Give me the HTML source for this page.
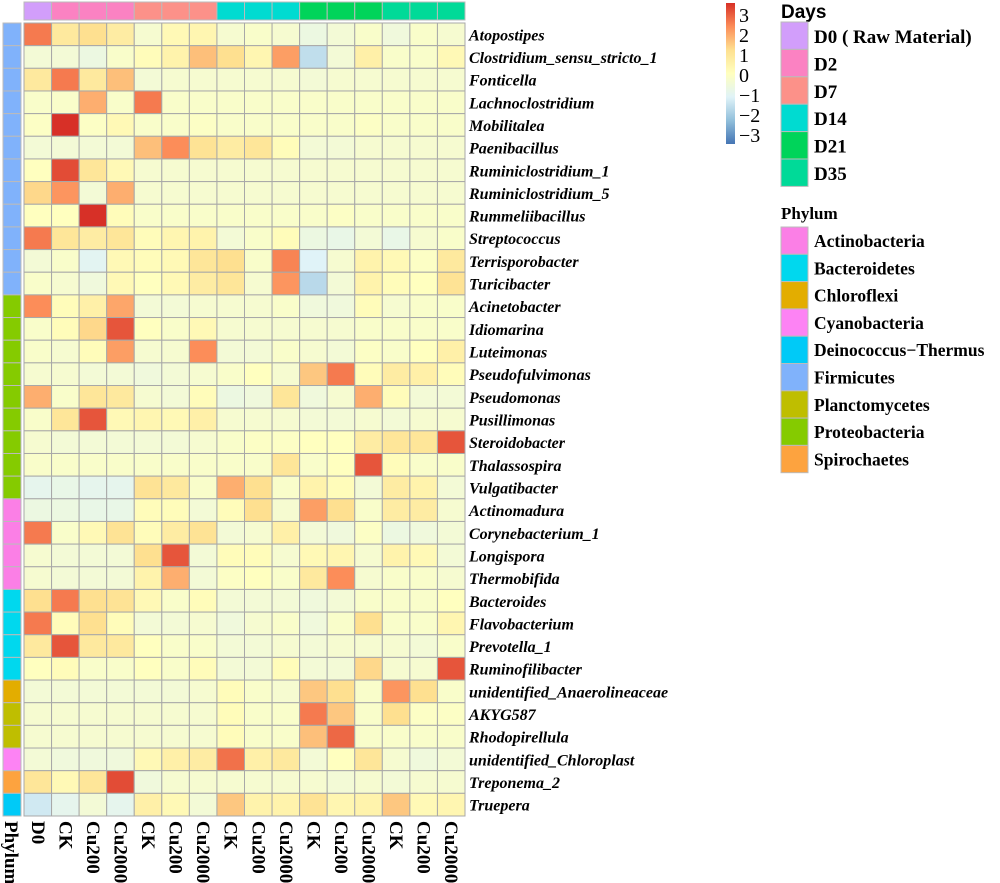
<!DOCTYPE html>
<html><head><meta charset="utf-8"><style>
html,body{margin:0;padding:0;background:#fff;width:1000px;height:883px;overflow:hidden}
</style></head><body>
<svg id="chart" width="1000" height="883" xmlns="http://www.w3.org/2000/svg"></svg>
<script>
const rows=["Atopostipes","Clostridium_sensu_stricto_1","Fonticella","Lachnoclostridium","Mobilitalea","Paenibacillus","Ruminiclostridium_1","Ruminiclostridium_5","Rummeliibacillus","Streptococcus","Terrisporobacter","Turicibacter","Acinetobacter","Idiomarina","Luteimonas","Pseudofulvimonas","Pseudomonas","Pusillimonas","Steroidobacter","Thalassospira","Vulgatibacter","Actinomadura","Corynebacterium_1","Longispora","Thermobifida","Bacteroides","Flavobacterium","Prevotella_1","Ruminofilibacter","unidentified_Anaerolineaceae","AKYG587","Rhodopirellula","unidentified_Chloroplast","Treponema_2","Truepera"];
const rowPhylum=["Firmicutes","Firmicutes","Firmicutes","Firmicutes","Firmicutes","Firmicutes","Firmicutes","Firmicutes","Firmicutes","Firmicutes","Firmicutes","Firmicutes","Proteobacteria","Proteobacteria","Proteobacteria","Proteobacteria","Proteobacteria","Proteobacteria","Proteobacteria","Proteobacteria","Proteobacteria","Actinobacteria","Actinobacteria","Actinobacteria","Actinobacteria","Bacteroidetes","Bacteroidetes","Bacteroidetes","Bacteroidetes","Chloroflexi","Planctomycetes","Planctomycetes","Cyanobacteria","Spirochaetes","Deinococcus\u2212Thermus"];
const columns=["D0","CK","Cu200","Cu2000","CK","Cu200","Cu2000","CK","Cu200","Cu2000","CK","Cu200","Cu2000","CK","Cu200","Cu2000"];
const colDays=["D0 ( Raw Material)","D2","D2","D2","D7","D7","D7","D14","D14","D14","D21","D21","D21","D35","D35","D35"];
const values=[
[2.2,0.7,1.0,0.6,-0.3,0.2,0.3,-0.3,-0.2,-0.3,-0.6,-0.4,-0.2,-0.5,-0.2,-0.3],
[-0.4,-0.4,-0.6,-0.2,0.1,0.4,1.4,1.0,0.3,1.8,-1.4,-0.4,0.5,-0.2,-0.2,0.2],
[0.7,2.2,0.7,1.4,-0.4,-0.3,-0.3,-0.3,-0.3,-0.3,-0.4,-0.3,-0.3,-0.3,-0.3,-0.3],
[-0.2,-0.2,1.6,-0.2,2.2,-0.2,-0.2,-0.2,-0.2,-0.2,-0.2,-0.2,-0.2,-0.2,-0.2,-0.2],
[-0.1,3.0,-0.1,0.2,-0.2,-0.2,-0.1,-0.2,-0.2,-0.2,-0.2,-0.2,-0.1,-0.2,-0.2,-0.2],
[-0.4,-0.4,-0.4,-0.4,1.4,2.0,0.9,0.6,0.8,0.1,-0.4,-0.4,-0.3,-0.3,-0.3,-0.3],
[0.0,2.7,0.8,0.2,-0.3,-0.3,-0.3,-0.3,-0.3,-0.3,-0.3,-0.3,-0.3,-0.3,-0.3,-0.3],
[1.1,1.9,-0.4,1.6,-0.3,-0.3,-0.3,-0.3,-0.3,-0.3,-0.3,-0.3,-0.3,-0.3,-0.3,-0.3],
[0.0,0.0,3.0,0.1,-0.2,-0.2,-0.2,-0.2,-0.2,-0.2,-0.2,-0.1,-0.2,-0.2,-0.2,-0.2],
[2.2,0.8,0.6,0.8,0.1,0.3,0.4,-0.4,-0.2,0.1,-0.6,-0.7,-0.4,-0.7,-0.3,-0.2],
[-0.4,-0.2,-0.9,0.2,0.1,0.2,0.8,1.0,-0.2,2.1,-1.0,-0.3,0.4,0.2,-0.1,0.7],
[-0.2,-0.3,-0.5,0.2,0.0,0.2,0.6,0.8,-0.3,1.9,-1.5,-0.4,0.4,0.1,0.0,0.9],
[2.0,0.1,0.5,1.7,-0.4,-0.4,-0.3,-0.3,-0.3,-0.2,-0.5,-0.5,0.1,-0.3,-0.2,-0.2],
[-0.2,0.1,1.1,2.6,0.0,-0.2,0.2,-0.3,-0.3,-0.3,-0.3,-0.3,-0.2,-0.2,-0.2,-0.2],
[-0.2,-0.3,0.1,1.8,-0.3,-0.3,2.0,-0.4,-0.4,-0.2,-0.3,-0.4,-0.1,-0.2,0.0,0.5],
[-0.3,-0.3,-0.4,-0.4,-0.5,-0.4,-0.3,-0.2,0.0,-0.3,1.3,2.2,0.1,0.6,0.5,0.1],
[1.6,-0.2,0.8,0.7,-0.3,-0.4,0.1,-0.6,-0.5,0.8,-0.5,-0.3,1.6,0.1,-0.4,-0.4],
[-0.2,0.8,2.6,0.2,0.3,0.2,0.5,-0.3,-0.3,-0.3,-0.4,-0.4,-0.3,-0.4,-0.3,-0.3],
[-0.3,-0.4,-0.4,-0.4,-0.4,-0.4,-0.3,-0.2,-0.1,-0.1,0.0,0.0,0.6,0.8,0.8,2.6],
[-0.2,-0.2,-0.2,-0.2,-0.2,-0.2,-0.2,-0.2,-0.2,0.8,-0.2,0.0,2.6,0.1,-0.2,-0.2],
[-0.8,-0.7,-0.8,-0.8,0.9,0.7,-0.2,1.6,1.0,-0.2,0.4,0.1,-0.4,0.6,0.4,-0.4],
[-0.6,-0.6,-0.7,-0.7,0.1,0.1,-0.4,0.1,1.0,-0.3,1.8,1.0,-0.2,0.6,0.6,-0.3],
[2.2,-0.2,0.2,0.9,0.1,0.6,0.9,-0.4,-0.3,0.5,-0.4,-0.5,-0.1,-0.6,-0.5,-0.4],
[-0.3,-0.4,-0.4,-0.4,1.0,2.6,-0.4,0.1,0.1,-0.3,0.2,0.3,-0.3,0.4,0.2,-0.4],
[-0.3,-0.4,-0.4,-0.4,0.4,1.6,-0.4,-0.1,0.0,-0.2,0.7,2.0,-0.3,-0.2,-0.2,-0.3],
[1.0,2.2,1.0,0.9,0.2,-0.2,0.1,-0.4,-0.4,-0.4,-0.5,-0.4,-0.2,-0.2,-0.2,0.0],
[2.2,0.1,1.0,0.1,-0.4,-0.4,-0.3,-0.5,-0.3,-0.2,-0.5,-0.2,1.0,-0.2,-0.2,0.3],
[0.7,2.6,0.7,0.7,0.0,-0.2,-0.2,-0.4,-0.4,-0.3,-0.4,-0.3,-0.3,-0.3,-0.4,-0.2],
[0.0,0.1,-0.2,-0.2,0.0,-0.2,0.1,-0.4,-0.4,0.1,-0.4,-0.4,1.1,-0.3,-0.3,2.6],
[-0.4,-0.4,-0.4,-0.4,-0.4,-0.4,-0.3,0.1,-0.2,-0.3,1.3,1.0,-0.2,1.9,1.0,-0.2],
[-0.3,-0.3,-0.3,-0.3,-0.3,-0.3,-0.3,0.1,-0.2,-0.2,2.2,1.3,-0.2,1.0,-0.1,-0.1],
[-0.3,-0.3,-0.3,-0.3,-0.3,-0.3,-0.3,0.1,-0.2,-0.2,1.4,2.4,-0.2,-0.2,-0.2,-0.2],
[-0.4,-0.5,-0.5,-0.5,0.2,0.5,0.6,2.3,0.5,0.7,-0.4,0.0,0.8,-0.3,-0.5,-0.4],
[0.8,0.2,0.8,2.7,-0.5,-0.3,-0.3,-0.3,-0.3,-0.3,-0.3,-0.4,-0.3,-0.4,-0.3,-0.3],
[-1.2,-0.8,-0.4,-0.8,0.5,0.2,-0.4,1.3,0.4,0.4,0.9,0.3,0.4,1.3,0.2,0.3]
];
const dayNames=["D0 ( Raw Material)","D2","D7","D14","D21","D35"];
const dayColors=["#D29EFB","#FB82C2","#FC9189","#00DBD1","#00D45A","#00DA98"];
const phylumNames=["Actinobacteria","Bacteroidetes","Chloroflexi","Cyanobacteria","Deinococcus\u2212Thermus","Firmicutes","Planctomycetes","Proteobacteria","Spirochaetes"];
const phylumColors=["#FB7FE6","#00D8EE","#E3AD00","#FD83F4","#00CAF7","#80B2FB","#BFBE00","#85CB00","#FDA33F"];
const colorTicks=[3,2,1,0,-1,-2,-3];

const svg=document.getElementById('chart');
const NS="http://www.w3.org/2000/svg";
const SERIF='"Liberation Serif", "DejaVu Serif", serif';
function mk(tag,attrs,parent){const e=document.createElementNS(NS,tag);for(const k in attrs)e.setAttribute(k,attrs[k]);(parent||svg).appendChild(e);return e;}
function txt(attrs,s,bold){const t=mk('text',Object.assign({'font-family':SERIF,'font-weight':bold===false?'normal':'bold'},attrs));t.textContent=s;return t;}
const X0=24,X1=465,Y0=23,Y1=816;
const cw=(X1-X0)/columns.length, rh=(Y1-Y0)/rows.length;
const xPos=i=>X0+i*cw, yPos=j=>Y0+j*rh;
const stops=[[-3,[69,117,180]],[-2,[145,191,219]],[-1,[224,243,248]],[0,[255,255,191]],[1,[254,224,144]],[2,[252,141,89]],[3,[215,48,39]]];
function color(v){v=Math.max(-3,Math.min(3,v));for(let i=0;i<stops.length-1;i++){const a=stops[i],b=stops[i+1];if(v<=b[0]){const t=(v-a[0])/(b[0]-a[0]);const c=a[1].map((x,k)=>Math.round(x+(b[1][k]-x)*t));return `rgb(${c})`;}}return 'rgb(215,48,39)';}

const dayG=mk('g',{});


colDays.forEach((d,i)=>{const r=mk('rect',{x:xPos(i),y:2,width:cw,height:18,fill:dayColors[dayNames.indexOf(d)],stroke:'#bbb','stroke-width':1},dayG);

});
const phG=mk('g',{});


rowPhylum.forEach((p,j)=>{const r=mk('rect',{x:3,y:yPos(j),width:18,height:rh,fill:phylumColors[phylumNames.indexOf(p)],stroke:'#bbb','stroke-width':1},phG);

});
const hm=mk('g',{});


values.forEach((row,j)=>row.forEach((v,i)=>{const r=mk('rect',{x:xPos(i),y:yPos(j),width:cw,height:rh,fill:color(v),stroke:'#a8a8a8','stroke-width':1},hm);

}));
rows.forEach((n,j)=>{const t=txt({x:469,y:yPos(j)+rh/2+6,'font-size':16,'font-style':'italic'},n);

});
columns.forEach((n,i)=>{const cx=xPos(i)+cw/2-6;const t=txt({x:0,y:0,'font-size':19,transform:`translate(${cx},821) rotate(90)`},n);

});
const pl=txt({x:0,y:0,'font-size':19,transform:'translate(5,821) rotate(90)'},'Phylum');


const defs=mk('defs',{});
const lg=mk('linearGradient',{id:'cb',x1:0,y1:0,x2:0,y2:1},defs);
[3,2,1,0,-1,-2,-3].forEach((v,k)=>mk('stop',{offset:(k/6),'stop-color':color(v)},lg));
const cb=mk('rect',{x:726,y:3,width:9,height:141,fill:'url(#cb)'});


const cbY=v=>75-v*20;
colorTicks.forEach(v=>{const t=txt({x:739,y:cbY(v)+7,'font-size':20},v<0?'\u2212'+Math.abs(v):String(v),false);

});
const dt=mk('text',{x:781,y:18,'font-size':19,'font-weight':'bold','font-family':'"Liberation Sans", sans-serif'});dt.textContent='Days';


dayNames.forEach((n,k)=>{const y=22+k*27.4;const r=mk('rect',{x:781,y:y,width:27,height:27.4,fill:dayColors[k],stroke:'#bbb'});


const t=txt({x:814,y:y+21,'font-size':19},n);

});
const pt=txt({x:781,y:219,'font-size':17},'Phylum');


phylumNames.forEach((n,k)=>{const y=227+k*27.3;const r=mk('rect',{x:781,y:y,width:27,height:27.3,fill:phylumColors[k],stroke:'#bbb'});


const t=txt({x:814,y:y+20,'font-size':17.5},n);

});
</script>
</body></html>
